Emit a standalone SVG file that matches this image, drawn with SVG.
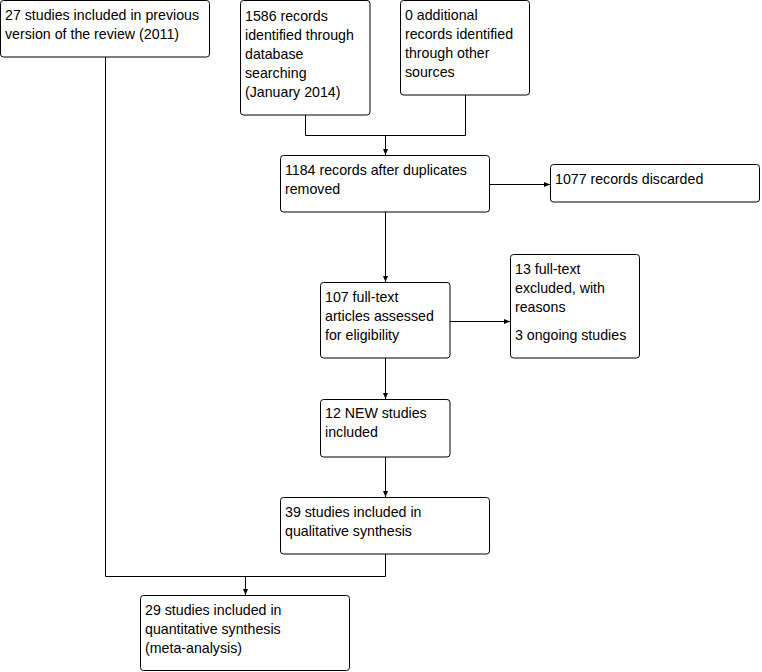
<svg xmlns="http://www.w3.org/2000/svg" width="762" height="672" viewBox="0 0 762 672">
<style>
.box{fill:#fff;stroke:#000;stroke-width:1}
.t{font-family:"Liberation Sans",Arial,sans-serif;font-size:14.2px;fill:#000}
.c{fill:none;stroke:#000;stroke-width:1}
</style>
<defs>
<marker id="ah" markerWidth="6" markerHeight="6" refX="6" refY="3" orient="auto" markerUnits="userSpaceOnUse">
<path d="M0,0.5 L6,3 L0,5.5 Z" fill="#000"/>
</marker>
</defs>
<rect width="762" height="672" fill="#fff"/>
<g id="connectors">
<path class="c" d="M305.5,115 V135.5 H465.5 V95"/>
<path class="c" d="M385.5,135.5 V155" marker-end="url(#ah)"/>
<path class="c" d="M490,184.5 H550" marker-end="url(#ah)"/>
<path class="c" d="M385.5,212 V282" marker-end="url(#ah)"/>
<path class="c" d="M450,321.5 H510" marker-end="url(#ah)"/>
<path class="c" d="M385.5,358 V399" marker-end="url(#ah)"/>
<path class="c" d="M385.5,457 V497" marker-end="url(#ah)"/>
<path class="c" d="M105.5,57 V576.5 H385.5 V554"/>
<path class="c" d="M245.5,576.5 V595" marker-end="url(#ah)"/>
</g>
<g id="n1">
<rect class="box" x="0.5" y="0.5" width="209" height="56.5" rx="3"/>
<text class="t" x="5" y="20">27 studies included in previous</text>
<text class="t" x="5" y="39">version of the review (2011)</text>
</g>
<g id="n2">
<rect class="box" x="240.5" y="0.5" width="129.5" height="114.5" rx="3"/>
<text class="t" x="245" y="21">1586 records</text>
<text class="t" x="245" y="40">identified through</text>
<text class="t" x="245" y="59">database</text>
<text class="t" x="245" y="78">searching</text>
<text class="t" x="245" y="97">(January 2014)</text>
</g>
<g id="n3">
<rect class="box" x="400.5" y="0.5" width="129" height="94.5" rx="3"/>
<text class="t" x="405" y="20">0 additional</text>
<text class="t" x="405" y="39">records identified</text>
<text class="t" x="405" y="58">through other</text>
<text class="t" x="405" y="77">sources</text>
</g>
<g id="n4">
<rect class="box" x="280.5" y="155.5" width="209" height="56.5" rx="3"/>
<text class="t" x="285" y="175">1184 records after duplicates</text>
<text class="t" x="285" y="194">removed</text>
</g>
<g id="n5">
<rect class="box" x="550.5" y="164.5" width="209" height="37.5" rx="3"/>
<text class="t" x="555" y="184">1077 records discarded</text>
</g>
<g id="n6">
<rect class="box" x="320.5" y="282.5" width="129.5" height="75.5" rx="3"/>
<text class="t" x="325" y="302">107 full-text</text>
<text class="t" x="325" y="321">articles assessed</text>
<text class="t" x="325" y="340">for eligibility</text>
</g>
<g id="n7">
<rect class="box" x="510.5" y="254.5" width="129" height="103.5" rx="3"/>
<text class="t" x="515" y="274">13 full-text</text>
<text class="t" x="515" y="293">excluded, with</text>
<text class="t" x="515" y="312">reasons</text>
<text class="t" x="515" y="340">3 ongoing studies</text>
</g>
<g id="n8">
<rect class="box" x="320.5" y="399.5" width="129.5" height="57.5" rx="3"/>
<text class="t" x="325" y="418">12 NEW studies</text>
<text class="t" x="325" y="437">included</text>
</g>
<g id="n9">
<rect class="box" x="280.5" y="497.5" width="209" height="56.5" rx="3"/>
<text class="t" x="285" y="517">39 studies included in</text>
<text class="t" x="285" y="536">qualitative synthesis</text>
</g>
<g id="n10">
<rect class="box" x="140.5" y="595.5" width="209" height="75" rx="3"/>
<text class="t" x="145" y="615">29 studies included in</text>
<text class="t" x="145" y="634">quantitative synthesis</text>
<text class="t" x="145" y="653">(meta-analysis)</text>
</g>
</svg>
